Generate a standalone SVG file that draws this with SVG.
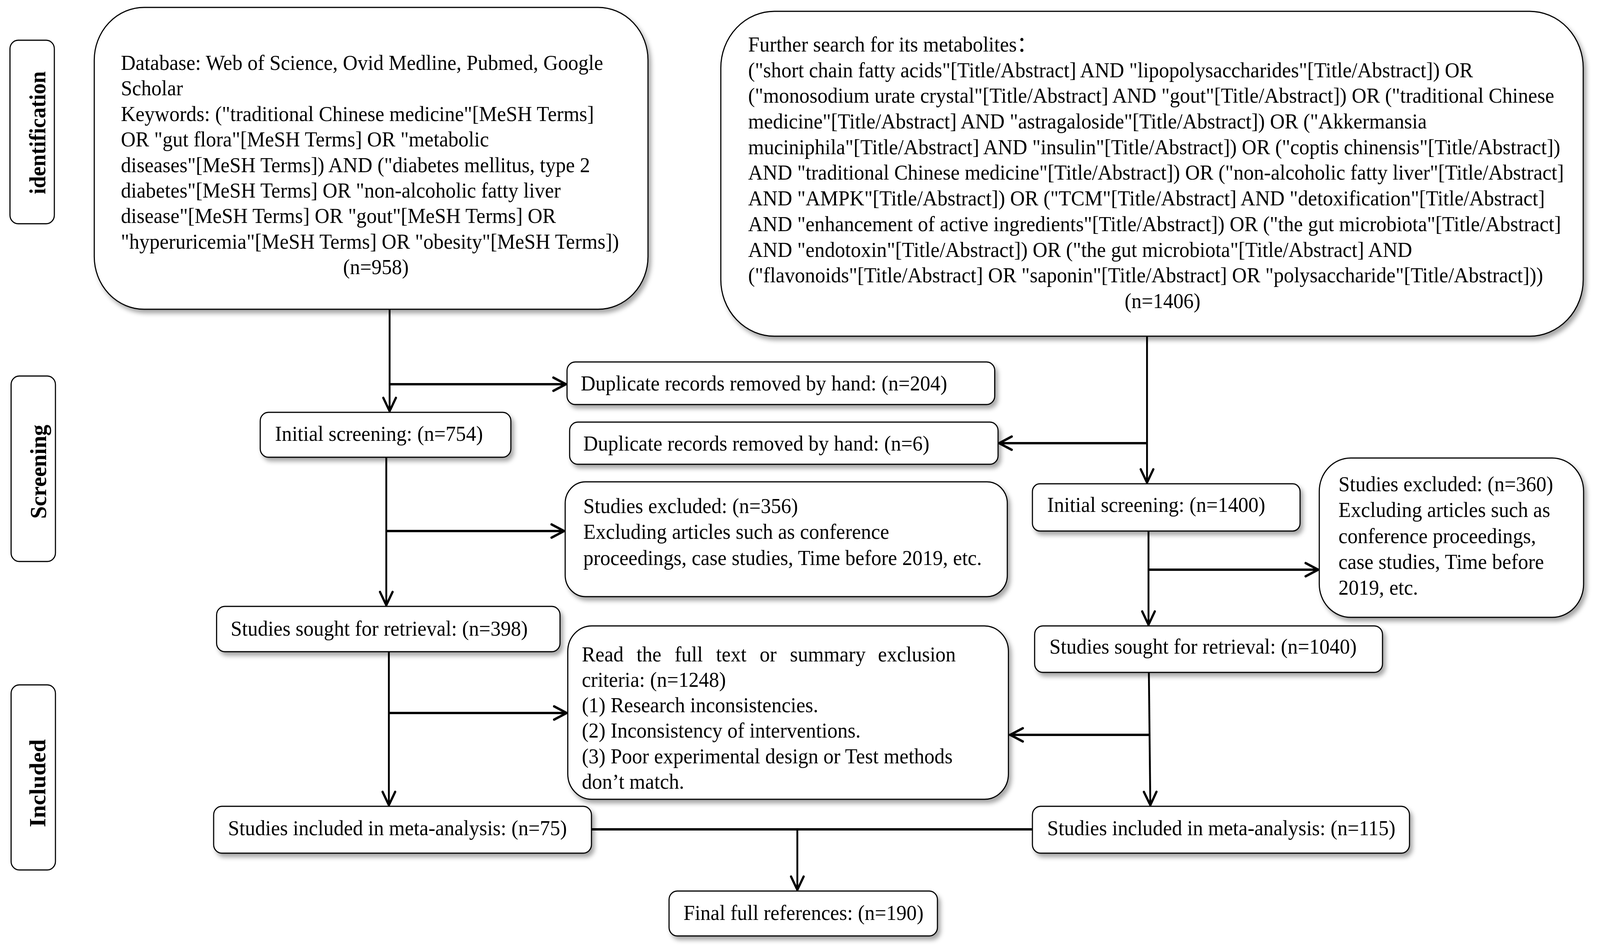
<svg xmlns="http://www.w3.org/2000/svg" width="4322" height="2433" viewBox="0 0 4322 2433">
<style>
.box{fill:#fff;stroke:#000;stroke-width:3;filter:url(#sh)}
.lbl{fill:#fff;stroke:#000;stroke-width:3}
.t{font-family:"Liberation Serif","Times New Roman","Noto Sans CJK SC",serif;font-size:55px;fill:#000}
.side{font-family:"Liberation Serif","Times New Roman",serif;font-weight:bold;font-size:62px;fill:#000}
.c{fill:none;stroke:#000;stroke-width:5;marker-end:url(#arr)}
.h{stroke-width:6}
.n{marker-end:none}
@media (max-width: 4300px){ #diagram{transform:scale(0.9463,1);transform-origin:0 0} }
</style>
<defs>
<filter id="sh" x="-5%" y="-8%" width="115%" height="130%">
<feDropShadow dx="7" dy="9" stdDeviation="6" flood-color="#000" flood-opacity="0.35"/>
</filter>
<marker id="arr" viewBox="-42 -24 50 48" refX="3" refY="0" markerWidth="50" markerHeight="48" markerUnits="userSpaceOnUse" orient="auto">
<path d="M-34,-17 L0,0 L-34,17" fill="none" stroke="#000" stroke-width="6" stroke-linecap="round" stroke-linejoin="round"/>
</marker>
</defs>
<rect width="4322" height="2433" fill="#fff"/>
<g id="diagram">

<g id="label-identification">
<rect class="lbl" x="27" y="103" width="120" height="470" rx="22"/>
<text class="side" x="123" y="340" text-anchor="middle" textLength="315" lengthAdjust="spacingAndGlyphs" transform="rotate(-90 123 340)">identification</text>
</g>
<g id="label-screening">
<rect class="lbl" x="30" y="963" width="120" height="475" rx="22"/>
<text class="side" x="125" y="1208" text-anchor="middle" textLength="241" lengthAdjust="spacingAndGlyphs" transform="rotate(-90 125 1208)">Screening</text>
</g>
<g id="label-included">
<rect class="lbl" x="30" y="1754" width="120" height="474" rx="22"/>
<text class="side" x="123" y="2006" text-anchor="middle" textLength="225" lengthAdjust="spacingAndGlyphs" transform="rotate(-90 123 2006)">Included</text>
</g>

<g id="connectors">
<path class="c" d="M1054,792 V1056"/>
<path class="c h" d="M1054,984 H1534"/>
<path class="c" d="M1045,1171 V1553"/>
<path class="c h" d="M1045,1360 H1529"/>
<path class="c" d="M1052,1669 V2065"/>
<path class="c h" d="M1052,1826 H1536"/>
<path class="c" d="M3103,861 V1239"/>
<path class="c h" d="M3103,1135 H2700"/>
<path class="c" d="M3107,1360 V1603"/>
<path class="c h" d="M3107,1459 H3569"/>
<path class="c" d="M3108,1722 L3112,2065"/>
<path class="c h" d="M3110,1882 H2730"/>
<path class="c h n" d="M1600,2124 H2793"/>
<path class="c" d="M2157,2124 V2282"/>
</g>

<g id="node-database">
<rect class="box" x="255" y="19" width="1498" height="773" rx="135"/>
<text class="t">
<tspan x="327" y="179">Database: Web of Science, Ovid Medline, Pubmed, Google</tspan>
<tspan x="327" y="244.4">Scholar</tspan>
<tspan x="327" y="309.8">Keywords: ("traditional Chinese medicine"[MeSH Terms]</tspan>
<tspan x="327" y="375.2">OR "gut flora"[MeSH Terms] OR "metabolic</tspan>
<tspan x="327" y="440.6">diseases"[MeSH Terms]) AND ("diabetes mellitus, type 2</tspan>
<tspan x="327" y="506">diabetes"[MeSH Terms] OR "non-alcoholic fatty liver</tspan>
<tspan x="327" y="571.4">disease"[MeSH Terms] OR "gout"[MeSH Terms] OR</tspan>
<tspan x="327" y="636.8">"hyperuricemia"[MeSH Terms] OR "obesity"[MeSH Terms])</tspan>
<tspan x="1017" y="702.2" text-anchor="middle">(n=958)</tspan>
</text>
</g>

<g id="node-further-search">
<rect class="box" x="1950" y="29" width="2333" height="832" rx="145"/>
<text class="t">
<tspan x="2024" y="132">Further search for its metabolites：</tspan>
<tspan x="2024" y="197.7">("short chain fatty acids"[Title/Abstract] AND "lipopolysaccharides"[Title/Abstract]) OR</tspan>
<tspan x="2024" y="263.4">("monosodium urate crystal"[Title/Abstract] AND "gout"[Title/Abstract]) OR ("traditional Chinese</tspan>
<tspan x="2024" y="329.1">medicine"[Title/Abstract] AND "astragaloside"[Title/Abstract]) OR ("Akkermansia</tspan>
<tspan x="2024" y="394.8">muciniphila"[Title/Abstract] AND "insulin"[Title/Abstract]) OR ("coptis chinensis"[Title/Abstract])</tspan>
<tspan x="2024" y="460.5">AND "traditional Chinese medicine"[Title/Abstract]) OR ("non-alcoholic fatty liver"[Title/Abstract]</tspan>
<tspan x="2024" y="526.2">AND "AMPK"[Title/Abstract]) OR ("TCM"[Title/Abstract] AND "detoxification"[Title/Abstract]</tspan>
<tspan x="2024" y="591.9">AND "enhancement of active ingredients"[Title/Abstract]) OR ("the gut microbiota"[Title/Abstract]</tspan>
<tspan x="2024" y="657.6">AND "endotoxin"[Title/Abstract]) OR ("the gut microbiota"[Title/Abstract] AND</tspan>
<tspan x="2024" y="723.3">("flavonoids"[Title/Abstract] OR "saponin"[Title/Abstract] OR "polysaccharide"[Title/Abstract]))</tspan>
<tspan x="3145" y="789" text-anchor="middle">(n=1406)</tspan>
</text>
</g>

<g id="node-dup-204">
<rect class="box" x="1534" y="927" width="1157" height="109" rx="22"/>
<text class="t" x="1571" y="1000">Duplicate records removed by hand: (n=204)</text>
</g>

<g id="node-initial-754">
<rect class="box" x="704" y="1056" width="678" height="115" rx="22"/>
<text class="t" x="744" y="1129">Initial screening: (n=754)</text>
</g>

<g id="node-dup-6">
<rect class="box" x="1541" y="1081" width="1159" height="108" rx="22"/>
<text class="t" x="1578" y="1154">Duplicate records removed by hand: (n=6)</text>
</g>

<g id="node-excluded-356">
<rect class="box" x="1529" y="1234" width="1196" height="294" rx="55"/>
<text class="t">
<tspan x="1578" y="1314">Studies excluded: (n=356)</tspan>
<tspan x="1578" y="1380.5">Excluding articles such as conference</tspan>
<tspan x="1578" y="1447">proceedings, case studies, Time before 2019, etc.</tspan>
</text>
</g>

<g id="node-initial-1400">
<rect class="box" x="2793" y="1239" width="724" height="121" rx="20"/>
<text class="t" x="2833" y="1311">Initial screening: (n=1400)</text>
</g>

<g id="node-excluded-360">
<rect class="box" x="3569" y="1173" width="715" height="408" rx="85"/>
<text class="t">
<tspan x="3621" y="1258">Studies excluded: (n=360)</tspan>
<tspan x="3621" y="1324.3">Excluding articles such as</tspan>
<tspan x="3621" y="1390.6">conference proceedings,</tspan>
<tspan x="3621" y="1456.9">case studies, Time before</tspan>
<tspan x="3621" y="1523.2">2019, etc.</tspan>
</text>
</g>

<g id="node-sought-398">
<rect class="box" x="586" y="1553" width="929" height="116" rx="22"/>
<text class="t" x="624" y="1628">Studies sought for retrieval: (n=398)</text>
</g>

<g id="node-sought-1040">
<rect class="box" x="2799" y="1603" width="941" height="119" rx="22"/>
<text class="t" x="2839" y="1674">Studies sought for retrieval: (n=1040)</text>
</g>

<g id="node-read-full-text">
<rect class="box" x="1536" y="1603" width="1192" height="444" rx="65"/>
<text class="t">
<tspan x="1574" y="1694">Read</tspan><tspan x="1722" y="1694">the</tspan><tspan x="1825" y="1694">full</tspan><tspan x="1937" y="1694">text</tspan><tspan x="2055" y="1694">or</tspan><tspan x="2137" y="1694">summary</tspan><tspan x="2375" y="1694">exclusion</tspan>
<tspan x="1574" y="1759">criteria: (n=1248)</tspan>
<tspan x="1574" y="1824">(1) Research inconsistencies.</tspan>
<tspan x="1574" y="1889">(2) Inconsistency of interventions.</tspan>
<tspan x="1574" y="1955">(3) Poor experimental design or Test methods</tspan>
<tspan x="1574" y="2020">don’t match.</tspan>
</text>
</g>

<g id="node-included-75">
<rect class="box" x="578" y="2065" width="1022" height="120" rx="22"/>
<text class="t" x="617" y="2139">Studies included in meta-analysis: (n=75)</text>
</g>

<g id="node-included-115">
<rect class="box" x="2793" y="2065" width="1020" height="120" rx="22"/>
<text class="t" x="2833" y="2139">Studies included in meta-analysis: (n=115)</text>
</g>

<g id="node-final">
<rect class="box" x="1810" y="2282" width="726" height="115" rx="22"/>
<text class="t" x="1849" y="2356">Final full references: (n=190)</text>
</g>
</g>
</svg>
